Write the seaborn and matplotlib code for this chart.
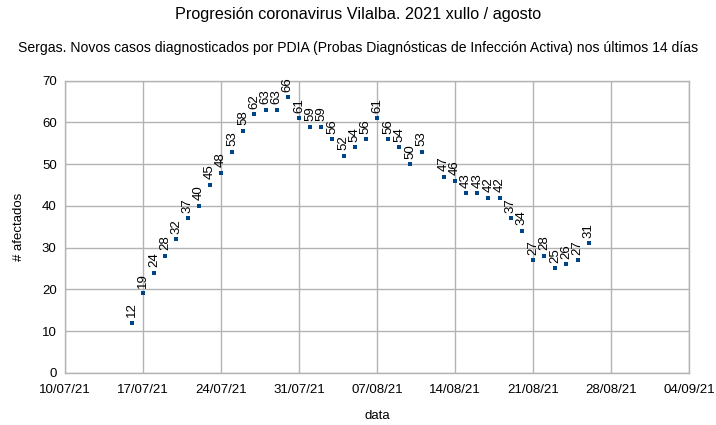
import matplotlib
matplotlib.use("Agg")
import matplotlib.pyplot as plt
import pandas as pd
import seaborn as sns

# datos
start_date = "2021-07-16"
end_date = "2021-08-26"
missing_date = "2021-08-12"
cases = [12, 19, 24, 28, 32, 37, 40, 45, 48, 53, 58, 62, 63, 63, 66,
         61, 59, 59, 56, 52, 54, 56, 61, 56, 54, 50, 53,
         47, 46, 43, 43, 42, 42, 37, 34, 27, 28, 25, 26, 27, 31]
x_min = "2021-07-10"
x_max = "2021-09-04"
title = "Progresión coronavirus Vilalba. 2021 xullo / agosto"
subtitle = "Sergas. Novos casos diagnosticados por PDIA (Probas Diagnósticas de Infección Activa) nos últimos 14 días"

days = pd.date_range(start_date, end_date)
days = days[days != pd.Timestamp(missing_date)]
df = pd.DataFrame({"data": days, "casos": cases})

sns.set_style("white")
plt.rcParams["font.family"] = ["Liberation Sans", "DejaVu Sans"]
plt.rcParams["text.color"] = "black"
plt.rcParams["axes.labelcolor"] = "black"

grey = "#b3b3b3"
blue = "#004586"

fig = plt.figure(figsize=(7.16, 4.25), dpi=100)
ax = fig.add_axes([0.0908, 0.123, 0.8715, 0.687])

sns.scatterplot(data=df, x="data", y="casos", marker="s", s=12,
                color=blue, edgecolor=blue, linewidth=0, ax=ax, zorder=3)

# etiquetas dos valores
for d, v in zip(df["data"], df["casos"]):
    ax.annotate(str(v), (d, v), xytext=(0, 4), textcoords="offset points",
                rotation=90, ha="center", va="bottom", fontsize=9.5,
                color="black")

ax.set_xlim(pd.Timestamp(x_min), pd.Timestamp(x_max))
ax.set_ylim(0, 70)
ax.set_yticks(range(0, 71, 10))
ticks = pd.date_range(x_min, x_max, freq="7D")
ax.set_xticks(ticks)
ax.set_xticklabels([t.strftime("%d/%m/%y") for t in ticks])

ax.grid(True, color=grey, linewidth=1)
for s in ax.spines.values():
    s.set_color(grey)
    s.set_linewidth(1)
ax.tick_params(axis="both", length=4, width=1, color=grey, labelcolor="black",
               labelsize=9.5, pad=2, direction="out")
ax.tick_params(axis="x", pad=4)

ax.set_xlabel("data", fontsize=9.5, labelpad=10)
ax.set_ylabel("# afectados", fontsize=9.5, labelpad=12)

fig.text(0.5, 0.965, title, ha="center", va="center", fontsize=11.7)
fig.text(0.5, 0.887, subtitle, ha="center", va="center", fontsize=10.1)

fig.savefig("out.png", dpi=100)
